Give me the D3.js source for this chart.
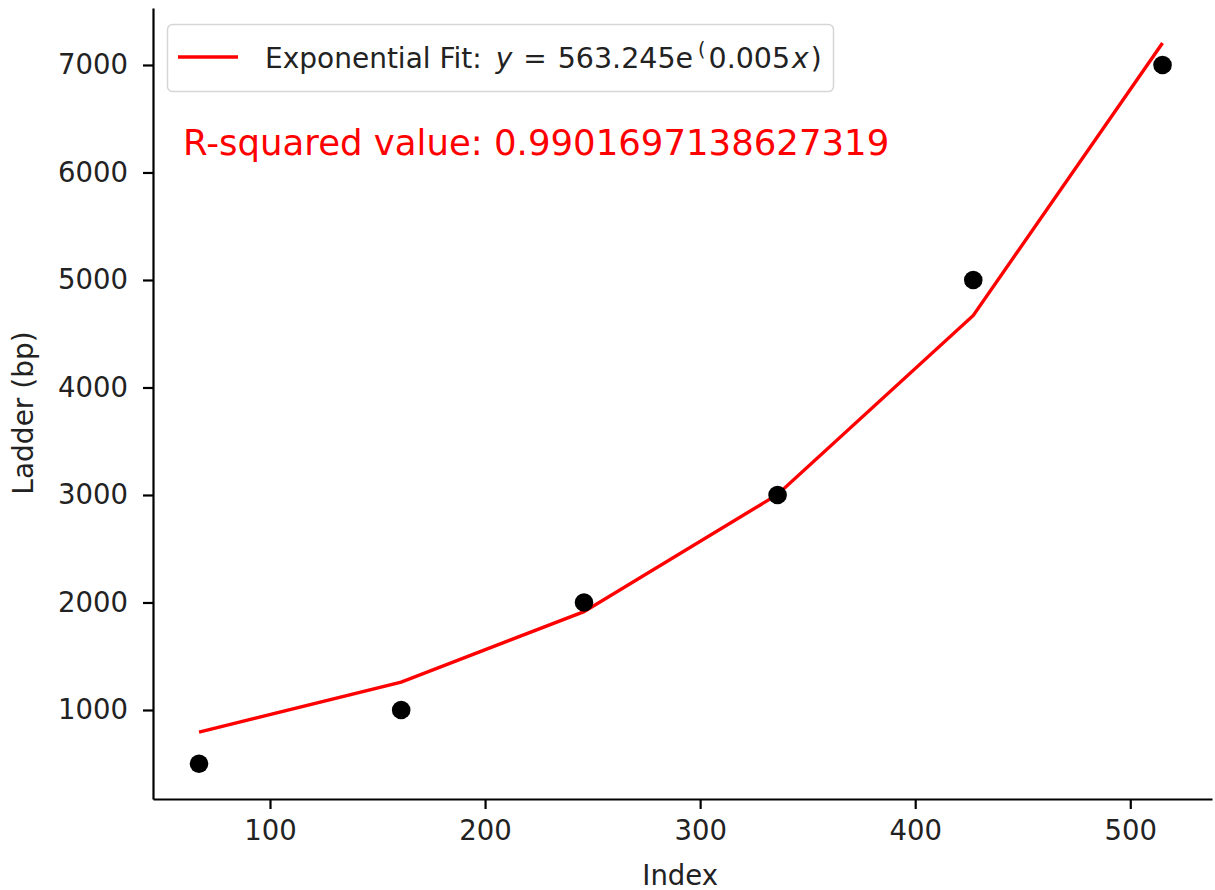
<!DOCTYPE html>
<html>
<head>
<meta charset="utf-8">
<script src="https://cdn.jsdelivr.net/npm/d3@7"></script>
<style>
  html, body { margin: 0; padding: 0; background: #fff; }
  svg { display: block; font-family: 'DejaVu Sans', sans-serif; }
</style>
</head>
<body>
<div id="chart"></div>
<script>
// ── Ladder calibration: exponential fit ───────────────────
const indexVals = [67, 161, 246, 336, 427, 515];
const ladderBp = [500, 1000, 2000, 3000, 5000, 7000];
const fitVals = [795, 1260, 1915, 3005, 4670, 7205];
const xTicks = [100, 200, 300, 400, 500];
const yTicks = [1000, 2000, 3000, 4000, 5000, 6000, 7000];
const rSquaredText = 'R-squared value: 0.9901697138627319';

const width = 1215, height = 890;
const margin = { left: 153, right: 3, top: 8, bottom: 91 };

const svg = d3.select('#chart')
    .append('svg')
    .attr('width', width)
    .attr('height', height);

const x = d3.scaleLinear()
    .domain([45.6, 538])
    .range([margin.left, width - margin.right]);
const y = d3.scaleLinear()
    .domain([172, 7530])
    .range([height - margin.bottom, margin.top]);

// Axes
const xAxis = svg.append('g')
    .attr('transform', `translate(0,${height - margin.bottom})`)
    .call(d3.axisBottom(x).tickValues(xTicks).tickFormat(d3.format('d'))
        .tickSize(10).tickPadding(10).tickSizeOuter(0));
const yAxis = svg.append('g')
    .attr('transform', `translate(${margin.left},0)`)
    .call(d3.axisLeft(y).tickValues(yTicks).tickFormat(d3.format('d'))
        .tickSize(10).tickPadding(15).tickSizeOuter(0));

[xAxis, yAxis].forEach(a => {
    a.select('.domain').attr('stroke', '#000').attr('stroke-width', 2.2);
    a.selectAll('.tick line').attr('stroke', '#000').attr('stroke-width', 2.2);
    a.selectAll('.tick text')
        .attr('fill', '#222')
        .attr('font-size', '27.5px')
        .attr('font-family', "'DejaVu Sans', sans-serif");
});
xAxis.selectAll('.tick text').attr('dy', '0.78em');

// Axis labels
svg.append('text')
    .attr('x', x(300) - 20)
    .attr('y', 885)
    .attr('text-anchor', 'middle')
    .attr('font-size', '27.5px')
    .attr('fill', '#222')
    .text('Index');

svg.append('text')
    .attr('transform', 'translate(33,413) rotate(-90)')
    .attr('text-anchor', 'middle')
    .attr('font-size', '28px')
    .attr('fill', '#222')
    .text('Ladder (bp)');

// Fit line
const line = d3.line()
    .x((d, i) => x(indexVals[i]))
    .y(d => y(d));

svg.append('path')
    .datum(fitVals)
    .attr('fill', 'none')
    .attr('stroke', '#ff0000')
    .attr('stroke-width', 3.4)
    .attr('d', line);

// Data points
svg.append('g')
    .selectAll('circle')
    .data(ladderBp)
    .join('circle')
    .attr('cx', (d, i) => x(indexVals[i]))
    .attr('cy', d => y(d))
    .attr('r', 9.3)
    .attr('fill', '#000');

// Legend
const legend = svg.append('g');
legend.append('rect')
    .attr('x', 167.5).attr('y', 24.5)
    .attr('width', 666).attr('height', 67)
    .attr('rx', 5)
    .attr('fill', '#fff')
    .attr('fill-opacity', 0.8)
    .attr('stroke', '#d6d6d6')
    .attr('stroke-width', 1.5);
legend.append('line')
    .attr('x1', 178).attr('x2', 238)
    .attr('y1', 57).attr('y2', 57)
    .attr('stroke', '#ff0000')
    .attr('stroke-width', 3.4);

const lt = legend.append('text')
    .attr('x', 265)
    .attr('y', 68)
    .attr('font-size', '28px')
    .attr('fill', '#222');
lt.append('tspan').text('Exponential Fit: ');
lt.append('tspan').attr('font-style', 'italic').attr('dx', 5).text('y');
lt.append('tspan').attr('dx', 11).text('=');
lt.append('tspan').attr('dx', 11).attr('font-size', '28.5px').text('563.245e');
lt.append('tspan').attr('font-size', '19px').attr('dx', 5).attr('dy', -12).text('(');
lt.append('tspan').attr('dx', 3).attr('dy', 12).attr('font-size', '28.5px').text('0.005');
lt.append('tspan').attr('dx', 2).attr('font-style', 'italic').text('x');
lt.append('tspan').attr('dx', 2).text(')');

// R-squared annotation
svg.append('text')
    .attr('x', 183)
    .attr('y', 155)
    .attr('font-size', '35.5px')
    .attr('fill', '#ff0000')
    .text(rSquaredText);
</script>
</body>
</html>
